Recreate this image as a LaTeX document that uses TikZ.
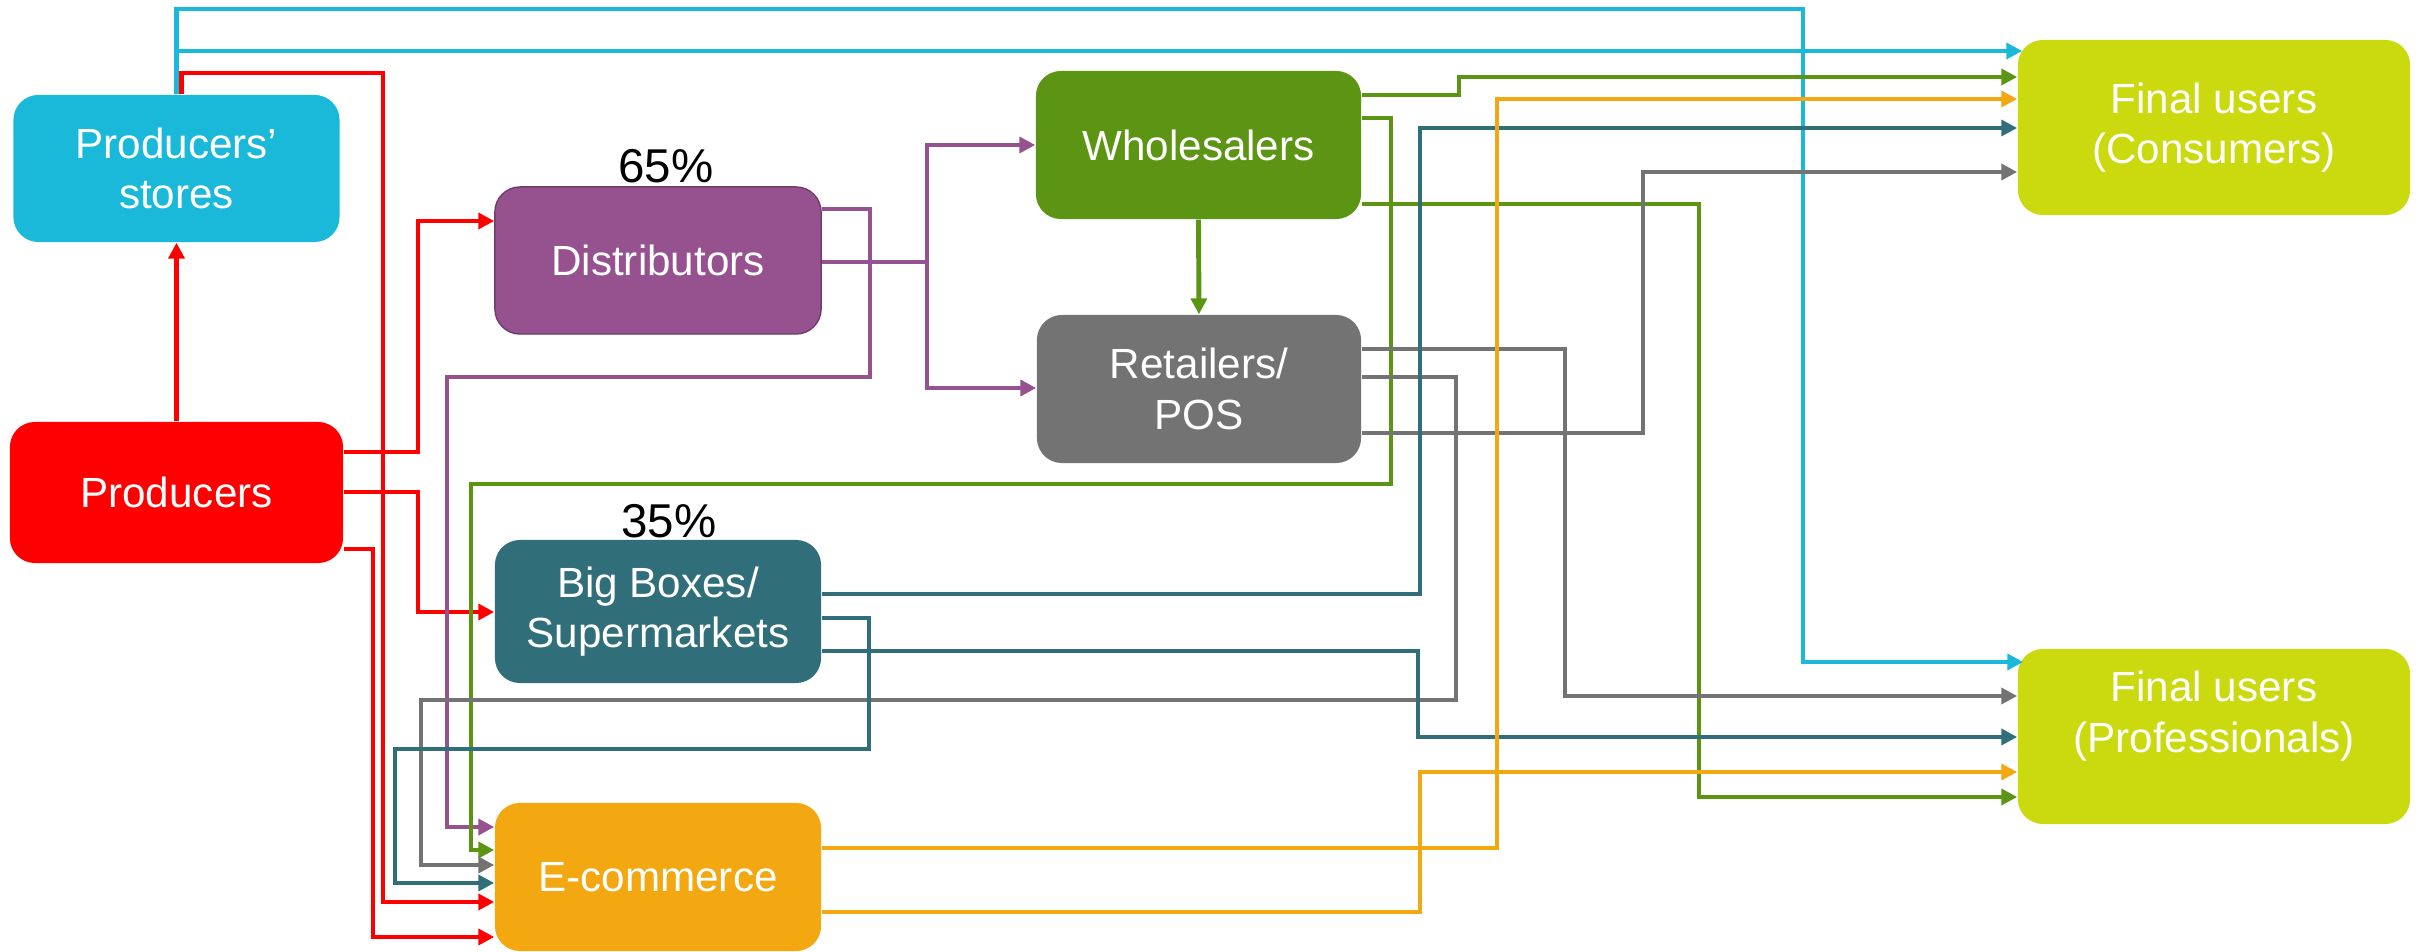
\documentclass[tikz,border=0pt]{standalone}
\usepackage{fontspec}
\setmainfont{Liberation Sans}
\usepackage{xcolor}
\usepackage{tikz}
\usetikzlibrary{arrows.meta,positioning,calc}
\definecolor{cstore}{HTML}{1BB9D9}
\definecolor{cprod}{HTML}{FF0000}
\definecolor{cdist}{HTML}{96518F}
\definecolor{cbig}{HTML}{306F7A}
\definecolor{cwhole}{HTML}{5B9513}
\definecolor{cretail}{HTML}{737373}
\definecolor{cecom}{HTML}{F3A711}
\definecolor{cfinal}{HTML}{CADA0E}

\begin{document}
\begin{tikzpicture}[
    x=0.01cm, y=-0.01cm,
    >={Triangle[length=4.5pt,width=4.5pt]},
    box/.style={rounded corners=0.25cm, minimum width=3.26cm, minimum height=1.47cm, inner sep=0pt, align=center, text=white, font=\fontsize{12}{14.4}\selectfont},
    final/.style={box, fill=cfinal, minimum width=3.92cm, minimum height=1.75cm},
    lbl/.style={inner sep=0pt, align=center, text=white, font=\fontsize{12}{14.4}\selectfont},
    pct/.style={inner sep=0pt, font=\fontsize{13.5}{16}\selectfont},
    link/.style={->, line width=1.4pt}
]
\useasboundingbox (0,0) rectangle (2420,952);

\node[box, fill=cstore] (stores) at (176.5,168.5) {Producers’\\stores};
\node[box, fill=cprod, minimum width=3.33cm, minimum height=1.41cm] (prod) at (176.5,492.5) {Producers};
\node[box, fill=cdist, draw=cdist!75!black, thin] (dist) at (658,260.5) {Distributors};
\node[box, fill=cbig, minimum height=1.43cm] (bigb) at (658,611.5) {Big Boxes/\\Supermarkets};
\node[box, fill=cecom, minimum height=1.48cm] (ecom) at (658,877) {E-commerce};
\node[box, fill=cwhole, minimum width=3.25cm, minimum height=1.48cm] (whole) at (1198.5,145) {Wholesalers};
\node[box, fill=cretail, minimum width=3.24cm, minimum height=1.48cm] (retail) at (1199,389) {Retailers/\\POS};
\node[final] (cons) at (2214,127.5) {Final users\\(Consumers)};
\node[final] (prof) at (2214,736.5) {};
\node[lbl] (proftext) at (2214,716) {Final users\\(Professionals)};

\node[pct, anchor=base] (p65) at (666,183) {65\%};
\node[pct, anchor=base] (p35) at (669,538) {35\%};

% producers
\draw[link, cprod] (prod.north) -- (stores.south);
\draw[link, cprod] (prod.east |- 0,452) -- (418,452) |- (dist.west |- 0,221);
\draw[link, cprod] (prod.east |- 0,492) -- (418,492) |- (bigb.west |- 0,612);
\draw[link, cprod] (prod.east |- 0,549) -- (373,549) |- (ecom.west |- 0,937);
\draw[link, cprod] ($(stores.north)+(5,0)$) |- (383,73) |- (ecom.west |- 0,902);

% producers' stores
\draw[link, cstore] (stores.north) |- (1803,9) |- ($(prof.west |- 0,662)+(6,0)$);
\draw[link, cstore] (stores.north) |- ($(cons.west |- 0,51)+(5,0)$);

% distributors
\draw[link, cdist] (dist.east |- 0,262) -- (927,262) |- (whole.west |- 0,145);
\draw[link, cdist] (927,262) |- (retail.west |- 0,388);
\draw[link, cdist] (dist.east |- 0,209) -| (870,377) -| (447,827) -- (ecom.west |- 0,827);

% wholesalers
\draw[link, cwhole] (whole.south) -- (retail.north);
\draw[link, cwhole] (whole.east |- 0,95) -| (1459,77) -- (cons.west |- 0,77);
\draw[link, cwhole] (whole.east |- 0,118) -| (1391,484) -| (471,850) -- (ecom.west |- 0,850);
\draw[link, cwhole] (whole.east |- 0,204) -| (1699,797) -- (prof.west |- 0,797);

% retailers
\draw[link, cretail] (retail.east |- 0,349) -| (1565,696) -- (prof.west |- 0,696);
\draw[link, cretail] (retail.east |- 0,377) -| (1456,700) -| (421,865) -- (ecom.west |- 0,865);
\draw[link, cretail] (retail.east |- 0,433) -| (1643,172) -- (cons.west |- 0,172);

% big boxes
\draw[link, cbig] (bigb.east |- 0,594) -| (1420,128) -- (cons.west |- 0,128);
\draw[link, cbig] (bigb.east |- 0,618) -| (869,749) -| (395,883) -- (ecom.west |- 0,883);
\draw[link, cbig] (bigb.east |- 0,651) -| (1418,737) -- (prof.west |- 0,737);

% e-commerce
\draw[link, cecom] (ecom.east |- 0,848) -| (1497,99) -- (cons.west |- 0,99);
\draw[link, cecom] (ecom.east |- 0,912) -| (1420,772) -- (prof.west |- 0,772);
\end{tikzpicture}
\end{document}
